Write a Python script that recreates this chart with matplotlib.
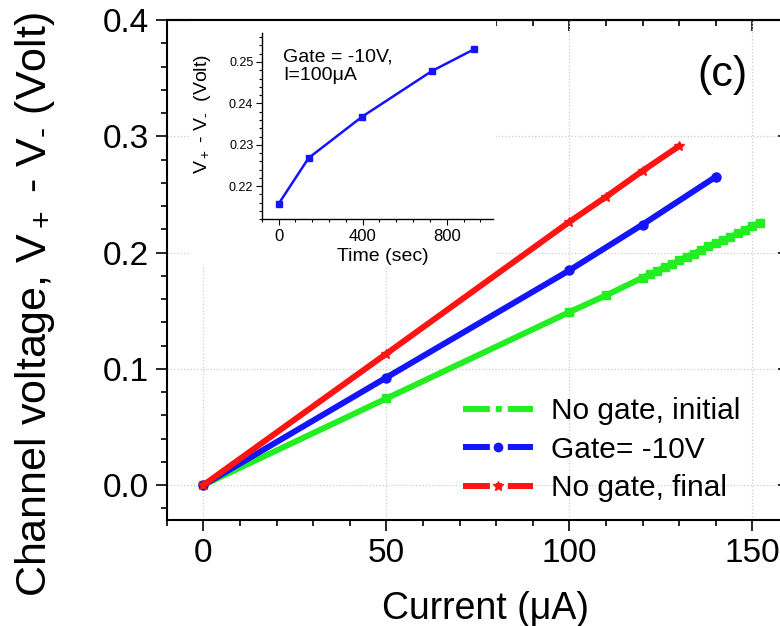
import matplotlib
matplotlib.use('Agg')
import matplotlib.pyplot as plt
from matplotlib.ticker import MultipleLocator, FormatStrFormatter
from matplotlib.lines import Line2D
from matplotlib.patches import Rectangle

plt.rcParams['font.family'] = ['Liberation Sans', 'DejaVu Sans']
plt.rcParams['mathtext.fontset'] = 'custom'
plt.rcParams['mathtext.rm'] = 'Liberation Sans'
plt.rcParams['mathtext.it'] = 'Liberation Sans:italic'
plt.rcParams['mathtext.default'] = 'regular'

# ---------------- data ----------------
green_x = [0, 50, 100, 110, 120, 122, 124, 126, 128, 130, 132, 134, 136, 138,
           140, 142, 144, 146, 148, 150, 152]
green_y = [0.0, 0.0745, 0.1488, 0.1632, 0.1784, 0.1813, 0.1842, 0.1876, 0.1899,
           0.1934, 0.1962, 0.1991, 0.2020, 0.2054, 0.2083, 0.2106, 0.2135,
           0.2164, 0.2198, 0.2227, 0.2258]
blue_x = [0, 50, 100, 120, 140]
blue_y = [0.0, 0.0925, 0.1847, 0.2241, 0.2652]
red_x = [0, 50, 100, 110, 120, 130]
red_y = [0.0, 0.113, 0.2264, 0.2479, 0.2703, 0.2916]
labels = ['No gate, initial', 'Gate= -10V', 'No gate, final']

inset_t = [0, 143, 398, 729, 931]
inset_v = [0.2157, 0.2268, 0.2368, 0.2478, 0.2531]

GREEN = '#22ee22'
BLUE = '#1414ff'
RED = '#ff1414'

W, H = 780, 626
fig = plt.figure(figsize=(W / 100, H / 100), dpi=100)

# main axes (right spine lies just outside the picture, as in the reference)
L, R, T, B = 166.7, 789.0, 20.0, 520.0
ax = fig.add_axes([L / W, 1 - B / H, (R - L) / W, (B - T) / H])
ax.set_xlim(-10, 160)
ax.set_ylim(-0.03, 0.4)
ax.set_axisbelow(True)

ax.xaxis.set_major_locator(MultipleLocator(50))
ax.xaxis.set_minor_locator(MultipleLocator(10))
ax.yaxis.set_major_locator(MultipleLocator(0.1))
ax.yaxis.set_minor_locator(MultipleLocator(0.02))
ax.yaxis.set_major_formatter(FormatStrFormatter('%.1f'))
ax.grid(True, which='major', color='#cccccc', linestyle=':', linewidth=0.9)

for s in ax.spines.values():
    s.set_linewidth(1.5)
ax.tick_params(which='both', direction='out', width=1.2, labelsize=24, pad=5)
ax.tick_params(which='major', length=8)
ax.tick_params(which='minor', length=4)

# mirrored inward ticks on top and right
secx = ax.secondary_xaxis('top')
secx.xaxis.set_major_locator(MultipleLocator(50))
secx.xaxis.set_minor_locator(MultipleLocator(10))
secx.tick_params(which='both', direction='in', labeltop=False, width=1.2)
secx.tick_params(which='major', length=8)
secx.tick_params(which='minor', length=4)
secx.spines['top'].set_linewidth(1.5)
secy = ax.secondary_yaxis('right')
secy.yaxis.set_major_locator(MultipleLocator(0.1))
secy.yaxis.set_minor_locator(MultipleLocator(0.02))
secy.tick_params(which='both', direction='in', labelright=False, width=1.2)
secy.tick_params(which='major', length=8)
secy.tick_params(which='minor', length=4)

# white block behind the inset (hides grid there)
ax.add_patch(Rectangle((0.036, 0.51), 0.493, 0.489, transform=ax.transAxes,
                       facecolor='white', edgecolor='none', zorder=1))

lw = 4.3
ax.plot(green_x, green_y, color=GREEN, lw=lw, marker='s', markersize=6,
        zorder=3)
ax.plot(blue_x, blue_y, color=BLUE, lw=lw, marker='o', markersize=6.5, zorder=4)
ax.plot(red_x, red_y, color=RED, lw=lw, marker='*', markersize=7.5, zorder=5)

ax.set_xlabel('Current (\u03bcA)', fontsize=27, va='center')
ax.xaxis.set_label_coords(0.513, -0.178)
ax.set_ylabel(r'Channel voltage, V$_+$ - V$_{\text{-}}$ (Volt)', fontsize=31,
              va='center')
ax.yaxis.set_label_coords(-0.212, 0.43)

dash = (0, (4.5, 1.0, 1.0, 1.0))
handles = [
    Line2D([], [], color=GREEN, lw=lw, linestyle=dash, marker='s',
           markersize=3.5),
    Line2D([], [], color=BLUE, lw=lw, linestyle=dash, marker='o',
           markersize=6),
    Line2D([], [], color=RED, lw=lw, linestyle=dash, marker='*',
           markersize=7),
]
fig.legend(handles, labels, loc='upper left',
           bbox_to_anchor=(462.7 / W, 1 - 397.0 / H),
           bbox_transform=fig.transFigure, frameon=False, fontsize=21.5,
           handlelength=2.35, handletextpad=0.6, labelspacing=0.36,
           borderpad=0, borderaxespad=0, numpoints=1)

fig.text(722 / W, 1 - 75 / H, '(c)', fontsize=31, ha='center', va='center')

# ---------------- inset ----------------
iL, iR, iT, iB = 261.7, 493.0, 33.0, 219.3
ax_in = fig.add_axes([iL / W, 1 - iB / H, (iR - iL) / W, (iB - iT) / H])
ax_in.set_xlim(-80, 1020)
ax_in.set_ylim(0.212, 0.257)
ax_in.spines['top'].set_visible(False)
ax_in.spines['right'].set_visible(False)
for s in ('left', 'bottom'):
    ax_in.spines[s].set_linewidth(1.0)
ax_in.xaxis.set_major_locator(MultipleLocator(400))
ax_in.xaxis.set_minor_locator(MultipleLocator(80))
ax_in.yaxis.set_major_locator(MultipleLocator(0.01))
ax_in.yaxis.set_minor_locator(MultipleLocator(0.002))
ax_in.yaxis.set_major_formatter(FormatStrFormatter('%.2f'))
ax_in.tick_params(which='both', direction='out', width=0.8)
ax_in.tick_params(which='major', length=4)
ax_in.tick_params(which='minor', length=2)
ax_in.tick_params(axis='x', labelsize=12, pad=3)
ax_in.tick_params(axis='y', labelsize=9, pad=2)
ax_in.plot(inset_t, inset_v, color=BLUE, lw=1.8, marker='s', markersize=4.5)
ax_in.set_xlabel('Time (sec)', fontsize=14, va='center')
ax_in.xaxis.set_label_coords(0.522, -0.2)
ax_in.set_ylabel(r'V$_+$ - V$_{\text{-}}$  (Volt)', fontsize=14, va='center')
ax_in.yaxis.set_label_coords(-0.254, 0.565)
fig.text(283.3 / W, 1 - 49 / H, 'Gate = -10V,\nI=100\u03bcA', fontsize=14,
         ha='left', va='top', linespacing=1.1)

fig.savefig('out.png', dpi=100)
